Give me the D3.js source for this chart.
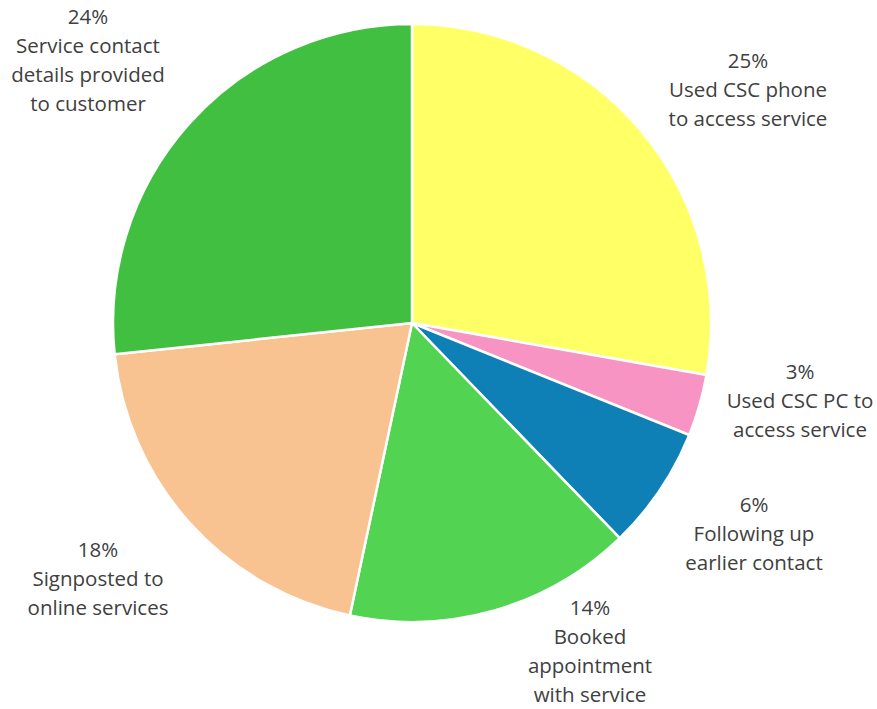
<!DOCTYPE html>
<html><head><meta charset="utf-8">
<script src="https://cdn.jsdelivr.net/npm/d3@7"></script>
<style>body{margin:0;background:#fff}svg{display:block}</style>
</head><body>
<script>
const categories = ["Used CSC phone to access service","Used CSC PC to access service","Following up earlier contact","Booked appointment with service","Signposted to online services","Service contact details provided to customer"];
const values = [25, 3, 6, 14, 18, 24];
const colors = ["#FFFF66","#F794C3","#0E80B5","#52D452","#F8C291","#40BF40"];
const labelLines = [
  ["25%","Used CSC phone","to access service"],
  ["3%","Used CSC PC to","access service"],
  ["6%","Following up","earlier contact"],
  ["14%","Booked","appointment","with service"],
  ["18%","Signposted to","online services"],
  ["24%","Service contact","details provided","to customer"]
];
const labelPos = [[748,68],[800,379],[754,512],[590,615],[98,557],[88,24]];

const W=877,H=709, cx=412, cy=323, R=299;
const svg = d3.select("body").append("svg").attr("width",W).attr("height",H);
const pie = d3.pie().sort(null).value(d=>d)(values);
const arc = d3.arc().innerRadius(0).outerRadius(R);
const g = svg.append("g").attr("transform",`translate(${cx},${cy})`);
g.selectAll("path").data(pie).join("path")
  .attr("d",arc).attr("fill",(d,i)=>colors[i])
  .attr("stroke","#fff").attr("stroke-width",2.5).attr("stroke-linejoin","round");

const lab = svg.append("g").attr("font-family","'Open Sans', Lato, sans-serif")
  .attr("font-size",20.5).attr("fill","#404040").attr("text-anchor","middle");
labelLines.forEach((lines,i)=>{
  const t = lab.append("text").attr("x",labelPos[i][0]).attr("y",labelPos[i][1]);
  lines.forEach((l,j)=>t.append("tspan").attr("x",labelPos[i][0]).attr("dy", j?29:0).text(l));
});
</script>
</body></html>
